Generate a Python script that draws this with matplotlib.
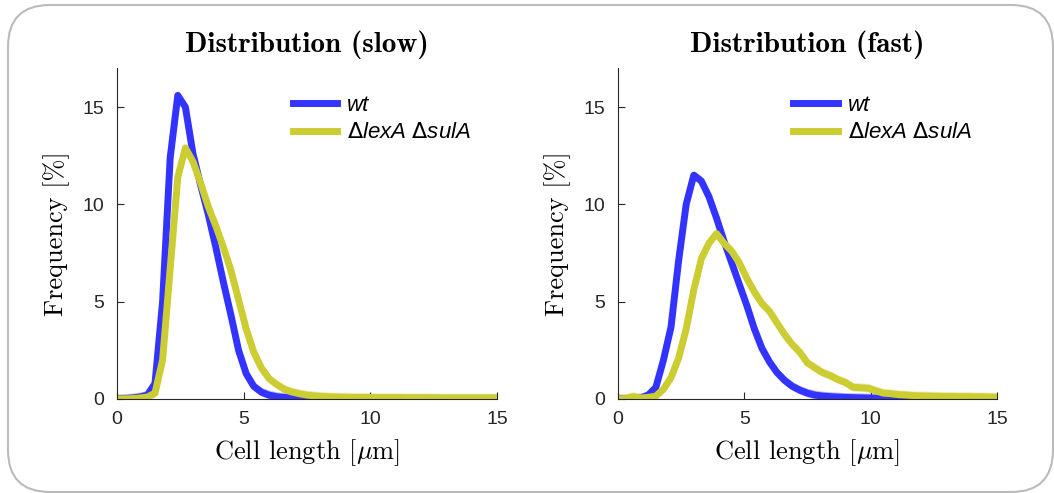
import numpy as np
import matplotlib
matplotlib.use('Agg')
import matplotlib.pyplot as plt
from matplotlib.patches import FancyBboxPatch

plt.rcParams['font.family'] = ['Liberation Sans', 'DejaVu Sans']
plt.rcParams['mathtext.fontset'] = 'cm'

# cell length bins [um], 0.3 um apart
bin_step = 0.3
x = bin_step * np.arange(51)

# frequency [%] per bin, slow growth
wt_slow = [0.0, 0.02, 0.05, 0.1, 0.2, 0.8, 5.0, 12.4, 15.6, 15.0,
           12.6, 11.0, 9.5, 7.8, 6.0, 4.3, 2.5, 1.3, 0.65, 0.35,
           0.2, 0.12, 0.08, 0.06, 0.05, 0.04, 0.03, 0.03, 0.02, 0.02,
           0.02, 0.01, 0.01, 0.01, 0.01, 0.01, 0.01, 0.01, 0.01, 0.01,
           0.01, 0.0, 0.0, 0.0, 0.0, 0.0, 0.0, 0.0, 0.0, 0.0, 0.0]
mut_slow = [0.0, 0.01, 0.02, 0.05, 0.1, 0.3, 2.0, 6.7, 11.4, 12.9,
            12.2, 11.1, 9.9, 8.9, 7.8, 6.6, 5.1, 3.6, 2.4, 1.6,
            1.05, 0.75, 0.5, 0.36, 0.27, 0.2, 0.16, 0.13, 0.11, 0.1,
            0.09, 0.08, 0.08, 0.08, 0.07, 0.07, 0.07, 0.07, 0.06, 0.06,
            0.06, 0.06, 0.06, 0.05, 0.05, 0.05, 0.05, 0.05, 0.05, 0.05, 0.05]

# frequency [%] per bin, fast growth
wt_fast = [0.0, 0.0, 0.02, 0.05, 0.2, 0.6, 2.0, 3.7, 7.1, 10.0,
           11.5, 11.2, 10.4, 9.3, 8.1, 7.0, 5.9, 4.8, 3.6, 2.6,
           1.9, 1.35, 0.95, 0.65, 0.45, 0.3, 0.2, 0.15, 0.12, 0.1,
           0.08, 0.07, 0.06, 0.05, 0.04, 0.04, 0.03, 0.03, 0.03, 0.03,
           0.02, 0.02, 0.02, 0.02, 0.02, 0.02, 0.02, 0.02, 0.02, 0.02, 0.02]
mut_fast = [0.0, 0.02, 0.12, 0.05, 0.08, 0.15, 0.5, 1.1, 2.1, 3.6,
            5.6, 7.2, 8.0, 8.5, 8.0, 7.6, 7.0, 6.2, 5.5, 4.9,
            4.5, 3.9, 3.3, 2.8, 2.4, 1.85, 1.6, 1.35, 1.2, 1.0,
            0.85, 0.6, 0.58, 0.55, 0.42, 0.3, 0.27, 0.22, 0.2, 0.17,
            0.16, 0.15, 0.14, 0.13, 0.13, 0.12, 0.12, 0.11, 0.11, 0.1, 0.1]

titles = ['Distribution (slow)', 'Distribution (fast)']
labels = ['wt', r'$\Delta$lexA $\Delta$sulA']
blue = '#3333ff'
yellow = '#cccc33'

fig = plt.figure(figsize=(10.54, 4.93), dpi=100)

# rounded grey frame around the whole figure
frame = FancyBboxPatch((0.08, 0.01), 10.45, 4.87,
                       boxstyle='round,pad=0,rounding_size=0.42',
                       transform=fig.dpi_scale_trans, fc='none',
                       ec='#bbbbbb', lw=1.5)
fig.add_artist(frame)

ax1 = fig.add_axes([0.111, 0.1907, 0.3605, 0.671])
ax2 = fig.add_axes([0.5863, 0.1907, 0.3596, 0.671])

panels = [(ax1, wt_slow, mut_slow, titles[0]),
          (ax2, wt_fast, mut_fast, titles[1])]

for ax, wt, mut, title in panels:
    wt = np.array(wt)
    mut = np.array(mut)
    ax.fill_between(x, wt - 0.2, wt + 0.25, color=blue, alpha=0.35, lw=0)
    ax.fill_between(x, mut - 0.2, mut + 0.25, color=yellow, alpha=0.35, lw=0)
    ax.plot(x, wt, color=blue, lw=5, label=labels[0], solid_joinstyle='round')
    ax.plot(x, mut, color=yellow, lw=5, label=labels[1], solid_joinstyle='round')

    ax.set_xlim(0, 15)
    ax.set_ylim(0, 17)
    ax.set_xticks([0, 5, 10, 15])
    ax.set_yticks([0, 5, 10, 15])
    for s in ['top', 'right']:
        ax.spines[s].set_visible(False)
    for s in ['left', 'bottom']:
        ax.spines[s].set_color('#262626')
        ax.spines[s].set_linewidth(0.8)
    ax.tick_params(direction='in', length=5, width=0.8, colors='#262626',
                   labelsize=14, pad=9)

    ax.set_title(title, family='cmb10', fontsize=21, pad=12)
    ax.set_xlabel(r'Cell length [$\mu$m]', family='cmr10', fontsize=19,
                  labelpad=6)
    ax.set_ylabel('Frequency [%]', family='cmr10', fontsize=19, labelpad=9)

    leg = ax.legend(loc='upper left', bbox_to_anchor=(0.41, 0.98),
                    frameon=False, handlelength=2.0, handletextpad=0.45,
                    labelspacing=0.3,
                    prop={'size': 16, 'style': 'italic',
                          'math_fontfamily': 'dejavusans'})

fig.savefig('out.png', dpi=100)
